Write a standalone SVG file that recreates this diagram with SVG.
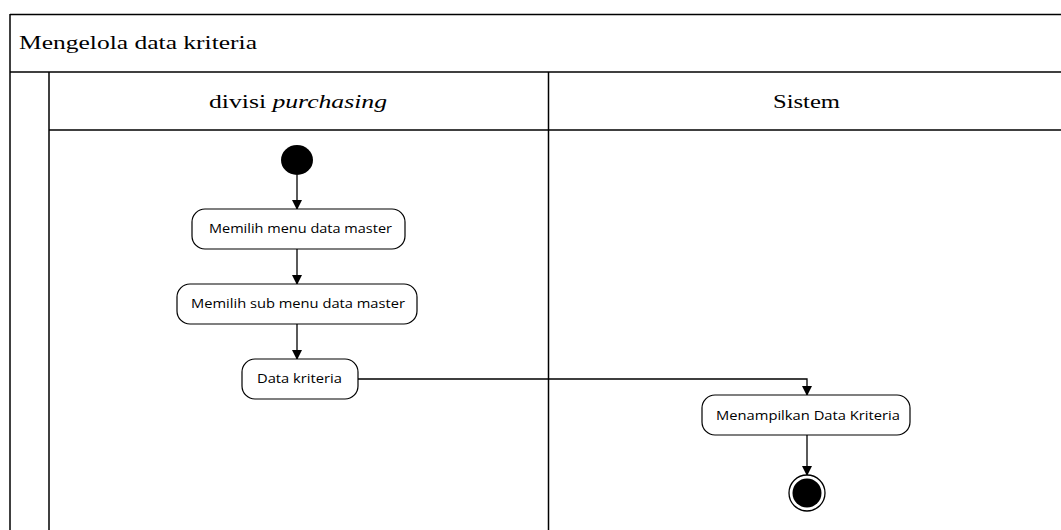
<svg xmlns="http://www.w3.org/2000/svg" width="1061" height="530" viewBox="0 0 1061 530">
<style>
.frame{fill:none;stroke:#000;stroke-width:1.5}
.head{font-family:"Liberation Serif",serif;font-size:18px;fill:#000}
.act{fill:#fff;stroke:#000;stroke-width:1.2}
.lbl{font-family:"Open Sans","Noto Sans",sans-serif;font-size:12.5px;fill:#000}
.conn{fill:none;stroke:#000;stroke-width:1.3}
</style>
<defs>
<marker id="arr" markerWidth="10" markerHeight="10" refX="9" refY="5" orient="auto" markerUnits="userSpaceOnUse">
<path d="M0,0 L10,5 L0,10 Z" fill="#000"/>
</marker>
</defs>
<rect width="1061" height="530" fill="#fff"/>
<g id="frame">
<line class="frame" x1="10" y1="14.5" x2="1061" y2="14.5"/>
<line class="frame" x1="10" y1="14" x2="10" y2="530"/>
<line class="frame" x1="10" y1="72" x2="1061" y2="72"/>
<line class="frame" x1="49" y1="72" x2="49" y2="530"/>
<line class="frame" x1="49" y1="130" x2="1061" y2="130"/>
<line class="frame" x1="548.5" y1="72" x2="548.5" y2="530"/>
<text class="head" x="19" y="49" textLength="238" lengthAdjust="spacingAndGlyphs">Mengelola data kriteria</text>
<text class="head" x="209" y="108" textLength="178" lengthAdjust="spacingAndGlyphs">divisi <tspan font-style="italic">purchasing</tspan></text>
<text class="head" x="773" y="108" textLength="67" lengthAdjust="spacingAndGlyphs">Sistem</text>
</g>
<g id="connectors">
<line class="conn" x1="297" y1="175" x2="297" y2="209" marker-end="url(#arr)"/>
<line class="conn" x1="297" y1="249" x2="297" y2="284" marker-end="url(#arr)"/>
<line class="conn" x1="297" y1="324" x2="297" y2="359" marker-end="url(#arr)"/>
<polyline class="conn" points="358,379 807,379 807,395" marker-end="url(#arr)"/>
<line class="conn" x1="807" y1="435" x2="807" y2="475" marker-end="url(#arr)"/>
</g>
<g id="start"><ellipse cx="297" cy="160" rx="16" ry="15" fill="#000"/></g>
<g id="n1"><rect class="act" x="192" y="209" width="213" height="40" rx="13"/><text class="lbl" x="209" y="233" textLength="183" lengthAdjust="spacingAndGlyphs">Memilih menu data master</text></g>
<g id="n2"><rect class="act" x="177" y="284" width="240" height="40" rx="13"/><text class="lbl" x="191" y="308" textLength="214" lengthAdjust="spacingAndGlyphs">Memilih sub menu data master</text></g>
<g id="n3"><rect class="act" x="242" y="359" width="116" height="40" rx="13"/><text class="lbl" x="257" y="383" textLength="85" lengthAdjust="spacingAndGlyphs">Data kriteria</text></g>
<g id="n4"><rect class="act" x="702" y="395" width="208" height="40" rx="13"/><text class="lbl" x="716" y="420" textLength="184" lengthAdjust="spacingAndGlyphs">Menampilkan Data Kriteria</text></g>
<g id="end"><circle cx="807" cy="493" r="18" fill="#fff" stroke="#000" stroke-width="1.3"/><circle cx="807" cy="493" r="14.5" fill="#000"/></g>
</svg>
